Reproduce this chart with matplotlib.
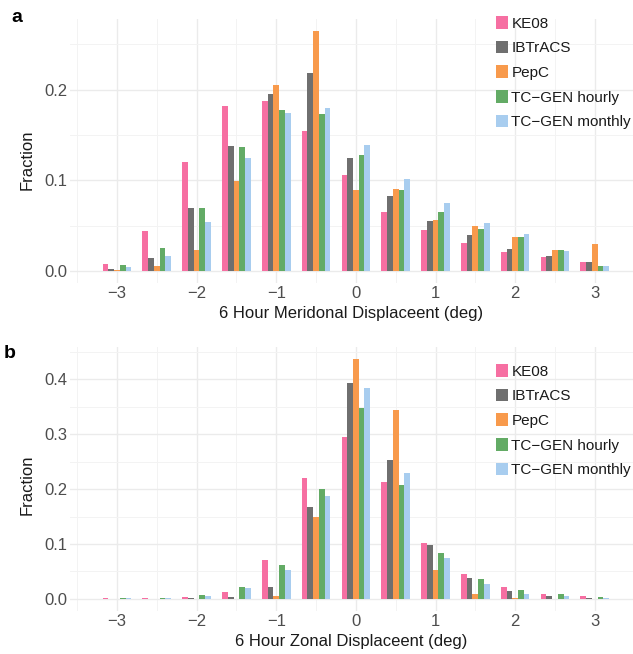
import matplotlib
matplotlib.use("Agg")
import matplotlib.pyplot as plt
import numpy as np

plt.rcParams['font.family'] = ['Liberation Sans', 'DejaVu Sans']

# bin centres (deg)
bins = [-3, -2.5, -2, -1.5, -1, -0.5, 0, 0.5, 1, 1.5, 2, 2.5, 3]
series = ["KE08", "IBTrACS", "PepC", "TC\u2212GEN hourly", "TC\u2212GEN monthly"]
colors = ["#F66FA2", "#6F6F6F", "#F89A4C", "#63AB65", "#A8CDEF"]

# panel a: meridional
merid_ke08 = [0.0077, 0.044, 0.120, 0.1816, 0.1875, 0.154, 0.106, 0.0654, 0.0456, 0.0305, 0.0206, 0.0154, 0.0103]
merid_ibtracs = [0.002, 0.0147, 0.070, 0.138, 0.195, 0.218, 0.125, 0.0827, 0.0551, 0.0393, 0.0243, 0.0169, 0.0096]
merid_pepc = [0.0007, 0.0055, 0.0228, 0.099, 0.205, 0.265, 0.089, 0.0904, 0.0566, 0.0496, 0.0375, 0.0235, 0.0294]
merid_hourly = [0.007, 0.025, 0.0695, 0.1364, 0.178, 0.1735, 0.128, 0.0897, 0.0647, 0.0467, 0.0375, 0.0235, 0.0059]
merid_monthly = [0.0048, 0.016, 0.054, 0.125, 0.174, 0.180, 0.139, 0.1015, 0.075, 0.053, 0.0404, 0.022, 0.0051]

# panel b: zonal
zonal_ke08 = [0.001, 0.002, 0.0036, 0.0133, 0.071, 0.2197, 0.2955, 0.2136, 0.102, 0.0449, 0.0212, 0.0097, 0.0055]
zonal_ibtracs = [0.0003, 0.0006, 0.0024, 0.0036, 0.0218, 0.1675, 0.393, 0.2524, 0.0977, 0.0388, 0.0152, 0.006, 0.0024]
zonal_pepc = [0.0, 0.0, 0.0006, 0.0006, 0.0055, 0.150, 0.4375, 0.344, 0.0528, 0.0085, 0.0024, 0.0006, 0.0006]
zonal_hourly = [0.002, 0.0024, 0.0067, 0.0225, 0.061, 0.200, 0.348, 0.207, 0.0843, 0.037, 0.0164, 0.0085, 0.0042]
zonal_monthly = [0.002, 0.0024, 0.0055, 0.019, 0.053, 0.1875, 0.385, 0.229, 0.0752, 0.0267, 0.0097, 0.0049, 0.0024]

W, H = 633, 654
fig = plt.figure(figsize=(W / 100, H / 100), dpi=100)


def px_axes(left, top, right, bottom):
    return fig.add_axes([left / W, 1 - bottom / H, (right - left) / W, (bottom - top) / H])


def panel(ax, data, ylim, yticks, yminor, xlabel, ylab_y, leg_top):
    x = np.array(bins)
    bw = 0.072
    for i, (vals, c, name) in enumerate(zip(data, colors, series)):
        ax.bar(x + (i - 2) * bw, vals, width=bw, color=c, label=name, zorder=2, linewidth=0)
    ax.set_xlim(-3.59, 3.48)
    ax.set_ylim(*ylim)
    ax.set_xticks([-3, -2, -1, 0, 1, 2, 3])
    ax.set_xticklabels(["\u22123", "\u22122", "\u22121", "0", "1", "2", "3"])
    ax.set_xticks([-3.5, -2.5, -1.5, -0.5, 0.5, 1.5, 2.5], minor=True)
    ax.set_yticks(yticks)
    ax.set_yticklabels(["%.1f" % v for v in yticks])
    ax.set_yticks(yminor, minor=True)
    ax.grid(which="major", color="#EBEBEB", linewidth=1.0, zorder=0)
    ax.grid(which="minor", color="#F3F3F3", linewidth=0.7, zorder=0)
    ax.set_axisbelow(True)
    for s in ax.spines.values():
        s.set_visible(False)
    ax.tick_params(which="both", length=0, labelsize=12, labelcolor="#4D4D4D", pad=2)
    ax.set_xlabel(xlabel, fontsize=12, color="#1A1A1A", labelpad=4)
    ax.set_ylabel("Fraction", fontsize=12, color="#1A1A1A")
    ax.yaxis.set_label_coords(-0.062, ylab_y)
    leg = ax.legend(loc="upper left", bbox_to_anchor=(496 / W, 1 - leg_top / H),
                    bbox_transform=fig.transFigure, frameon=False, fontsize=11,
                    handlelength=0.8, handleheight=0.9, handletextpad=0.2, labelspacing=0.66,
                    borderaxespad=0, borderpad=0)
    for t in leg.get_texts():
        t.set_color("#1A1A1A")
    return ax


ax1 = px_axes(70, 19, 633, 283)
panel(ax1, [merid_ke08, merid_ibtracs, merid_pepc, merid_hourly, merid_monthly],
      (-0.0133, 0.278), [0.0, 0.1, 0.2], [0.05, 0.15, 0.25],
      "6 Hour Meridonal Displaceent (deg)", 0.466, 16)

ax2 = px_axes(70, 347, 633, 611)
panel(ax2, [zonal_ke08, zonal_ibtracs, zonal_pepc, zonal_hourly, zonal_monthly],
      (-0.022, 0.459), [0.0, 0.1, 0.2, 0.3, 0.4], [0.05, 0.15, 0.25, 0.35, 0.45],
      "6 Hour Zonal Displaceent (deg)", 0.477, 364)

fig.text(11 / W, 1 - 17 / H, "a", fontsize=14, fontweight="bold", va="center", ha="left")
fig.text(4 / W, 1 - 353 / H, "b", fontsize=14, fontweight="bold", va="center", ha="left")

fig.savefig("out.png", dpi=100)
